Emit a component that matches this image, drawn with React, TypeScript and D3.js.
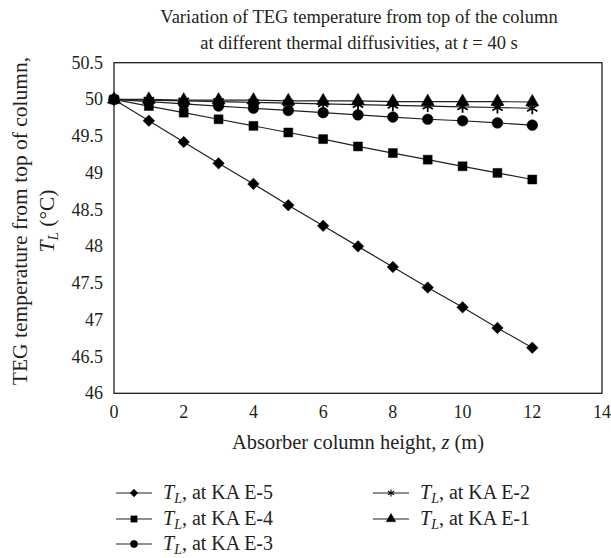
import React from "react";
import * as d3 from "d3";

const heights = [0, 1, 2, 3, 4, 5, 6, 7, 8, 9, 10, 11, 12];
const tE5 = [50, 49.71, 49.42, 49.13, 48.85, 48.56, 48.28, 48.0, 47.72, 47.44, 47.17, 46.89, 46.62];
const tE4 = [50, 49.91, 49.82, 49.73, 49.64, 49.55, 49.46, 49.36, 49.27, 49.18, 49.09, 49.0, 48.91];
const tE3 = [50, 49.97, 49.94, 49.91, 49.88, 49.85, 49.82, 49.79, 49.76, 49.73, 49.71, 49.68, 49.65];
const tE2 = [50, 49.99, 49.98, 49.97, 49.96, 49.95, 49.94, 49.93, 49.92, 49.91, 49.9, 49.89, 49.88];
const tE1 = [50, 50.0, 49.99, 49.99, 49.99, 49.98, 49.98, 49.98, 49.97, 49.97, 49.97, 49.97, 49.965];
const seriesLabels = ["KA E-5", "KA E-4", "KA E-3", "KA E-2", "KA E-1"];
const xTicks = [0, 2, 4, 6, 8, 10, 12, 14];
const yTicks = [46, 46.5, 47, 47.5, 48, 48.5, 49, 49.5, 50, 50.5];

const FONT = "Liberation Serif, DejaVu Serif, serif";

const left = 114, right = 602, top = 62.7, bottom = 393.3;

export default function App() {
  const x = d3.scaleLinear().domain([0, 14]).range([left, right]);
  const y = d3.scaleLinear().domain([46, 50.5]).range([bottom, top]);
  const line = d3.line<number>().x((_, i) => x(heights[i])).y((d) => y(d));

  const series = [
    { vals: tE5, sym: d3.symbolDiamond2, size: 85, lsize: 40, stroke: false },
    { vals: tE4, sym: d3.symbolSquare, size: 80, lsize: 42, stroke: false },
    { vals: tE3, sym: d3.symbolCircle, size: 90, lsize: 42, stroke: false },
    { vals: tE2, sym: d3.symbolAsterisk, size: 100, lsize: 36, stroke: true },
    { vals: tE1, sym: d3.symbolTriangle, size: 75, lsize: 42, stroke: false },
  ];

  const legendPos = [
    { lx: 116, ly: 493 },
    { lx: 116, ly: 519 },
    { lx: 116, ly: 544 },
    { lx: 373, ly: 493 },
    { lx: 373, ly: 519 },
  ];

  const ts = { fontFamily: FONT, fontSize: 18, fill: "#231f20" } as const;
  const tt = { fontFamily: FONT, fontSize: 18.5, fill: "#231f20" } as const;
  const ys = { fontFamily: FONT, fontSize: 21.5, fill: "#231f20" } as const;
  const xs = { fontFamily: FONT, fontSize: 20.5, fill: "#231f20" } as const;
  const ls = { fontFamily: FONT, fontSize: 20, fill: "#231f20" } as const;

  return (
    <svg width={611} height={558} style={{ position: "absolute", left: 0, top: 0, fontFamily: FONT }}>
      <rect width={611} height={558} fill="#fff" />
      <text x={359} y={23} textAnchor="middle" style={tt}>
        Variation of TEG temperature from top of the column
      </text>
      <text x={359} y={49} textAnchor="middle" style={tt}>
        at different thermal diffusivities, at <tspan fontStyle="italic">t</tspan> = 40 s
      </text>

      {yTicks.map((t) => (
        <text key={t} x={103} y={y(t) + 6} textAnchor="end" style={ts}>
          {t}
        </text>
      ))}
      {xTicks.map((t) => (
        <text key={t} x={x(t)} y={418} textAnchor="middle" style={ts}>
          {t}
        </text>
      ))}

      <text x={358} y={449} textAnchor="middle" style={xs}>
        Absorber column height, <tspan fontStyle="italic">z</tspan> (m)
      </text>

      <g transform="translate(27,221) rotate(-90)">
        <text x={0} y={0} textAnchor="middle" style={ys}>
          TEG temperature from top of column,
        </text>
      </g>
      <g transform="translate(54,221) rotate(-90)">
        <text x={0} y={0} textAnchor="middle" style={ys}>
          <tspan fontStyle="italic">T</tspan>
          <tspan fontStyle="italic" fontSize={15} dy={4}>L</tspan>
          <tspan dy={-4}> (°C)</tspan>
        </text>
      </g>

      <rect x={left} y={top} width={right - left} height={bottom - top} fill="none" stroke="#231f20" strokeWidth={1.3} />

      {series.map((s, si) => (
        <g key={si}>
          <path d={line(s.vals) || ""} fill="none" stroke="#231f20" strokeWidth={1.2} />
          {s.vals.map((v, i) => (
            <path
              key={i}
              d={d3.symbol(s.sym, s.size)() || ""}
              transform={`translate(${x(heights[i])},${y(v)})`}
              fill={s.stroke ? "none" : "#000"}
              stroke="#000"
              strokeWidth={s.stroke ? 1.8 : 0.5}
            />
          ))}
        </g>
      ))}

      {series.map((s, si) => {
        const p = legendPos[si];
        return (
          <g key={"lg" + si}>
            <line x1={p.lx} x2={p.lx + 36} y1={p.ly} y2={p.ly} stroke="#231f20" strokeWidth={1.2} />
            <path
              d={d3.symbol(s.sym, s.lsize)() || ""}
              transform={`translate(${p.lx + 18},${p.ly})`}
              fill={s.stroke ? "none" : "#000"}
              stroke="#000"
              strokeWidth={s.stroke ? 1.1 : 0.3}
            />
            <text x={p.lx + 47} y={p.ly + 6} style={ls}>
              <tspan fontStyle="italic">T</tspan>
              <tspan fontStyle="italic" fontSize={14} dy={4}>L</tspan>
              <tspan dy={-4}>, at {seriesLabels[si]}</tspan>
            </text>
          </g>
        );
      })}
    </svg>
  );
}
